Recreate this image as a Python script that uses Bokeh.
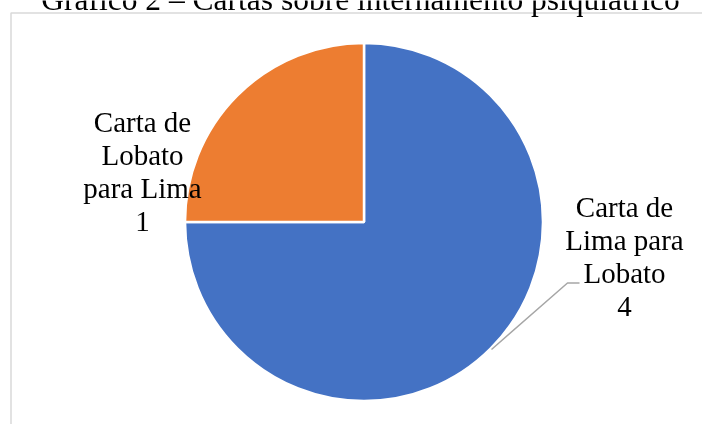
import math
from bokeh.plotting import figure
from bokeh.models import Range1d, ColumnDataSource
from bokeh.core.properties import value
from bokeh.embed import file_html
from bokeh.resources import INLINE

# ---- data ----
title_text = "Gráfico 2 – Cartas sobre internamento psiquiátrico"
categories = ["Carta de Lima para Lobato", "Carta de Lobato para Lima"]
label_lines = [["Carta de", "Lima para", "Lobato"], ["Carta de", "Lobato", "para Lima"]]
counts = [4, 1]              # values printed in the data labels
shares = [0.75, 0.25]        # fraction of the circle each slice covers in the picture
colors = ["#4472C4", "#ED7D31"]

# ---- layout (page pixels; canvas pinned to the top-left of the window) ----
W, H = 702, 424
TEXT_SHIFT = 9  # text renders a little below the requested baseline


def X(px):
    return px


def Y(py):
    return H - py


p = figure(width=W, height=H, output_backend="svg", toolbar_location=None,
           x_range=Range1d(0, W), y_range=Range1d(0, H),
           x_axis_type=None, y_axis_type=None, min_border=0,
           outline_line_color=None, background_fill_color="white",
           border_fill_color="white",
           styles={"position": "fixed", "top": "0px", "left": "0px"})
p.grid.visible = False

# chart area border (left and top visible; right and bottom run off the page)
p.line(x=[X(10.5), X(10.5), X(730)], y=[Y(450), Y(12.5), Y(12.5)],
       line_color="#D9D9D9", line_width=1.5)

# pie slices, starting at 12 o'clock, clockwise
cx, cy, r = X(363.5), Y(221.5), 179
starts, ends = [], []
cum = 0.0
for s in shares:
    starts.append(math.pi / 2 - cum * 2 * math.pi)
    cum += s
    ends.append(math.pi / 2 - cum * 2 * math.pi)

src = ColumnDataSource(dict(cat=categories, start=starts, end=ends, color=colors,
                            x=[cx] * len(categories), y=[cy] * len(categories)))
p.wedge(x="x", y="y", radius=r, radius_units="screen", start_angle="start",
        end_angle="end", direction="clock", fill_color="color",
        line_color="white", line_width=2.5, source=src)

# leader line for the blue slice label
p.line(x=[X(491), X(567), X(579)], y=[Y(349), Y(282.5), Y(282.5)],
       line_color="#A6A6A6", line_width=1.5)

# data labels
label_pos = [(624, 215), (142, 130)]
step = 33.3
lx, ly, lt = [], [], []
for lines, cnt, (px, py) in zip(label_lines, counts, label_pos):
    for i, t in enumerate(lines + [str(cnt)]):
        lx.append(X(px))
        ly.append(Y(py + i * step - TEXT_SHIFT))
        lt.append(t)
p.text(x=lx, y=ly, text=lt, text_align="center", text_baseline="alphabetic",
       text_font=value("Liberation Serif"), text_font_size="29px", text_color="#000000")

# title (its upper part runs off the top of the page, as in the reference)
p.text(x=[X(360)], y=[Y(8 - TEXT_SHIFT)], text=[title_text], text_align="center",
       text_baseline="alphabetic", text_font=value("Liberation Serif"),
       text_font_size="31.5px", text_color="#000000")

open("out.html", "w").write(file_html(p, INLINE))
